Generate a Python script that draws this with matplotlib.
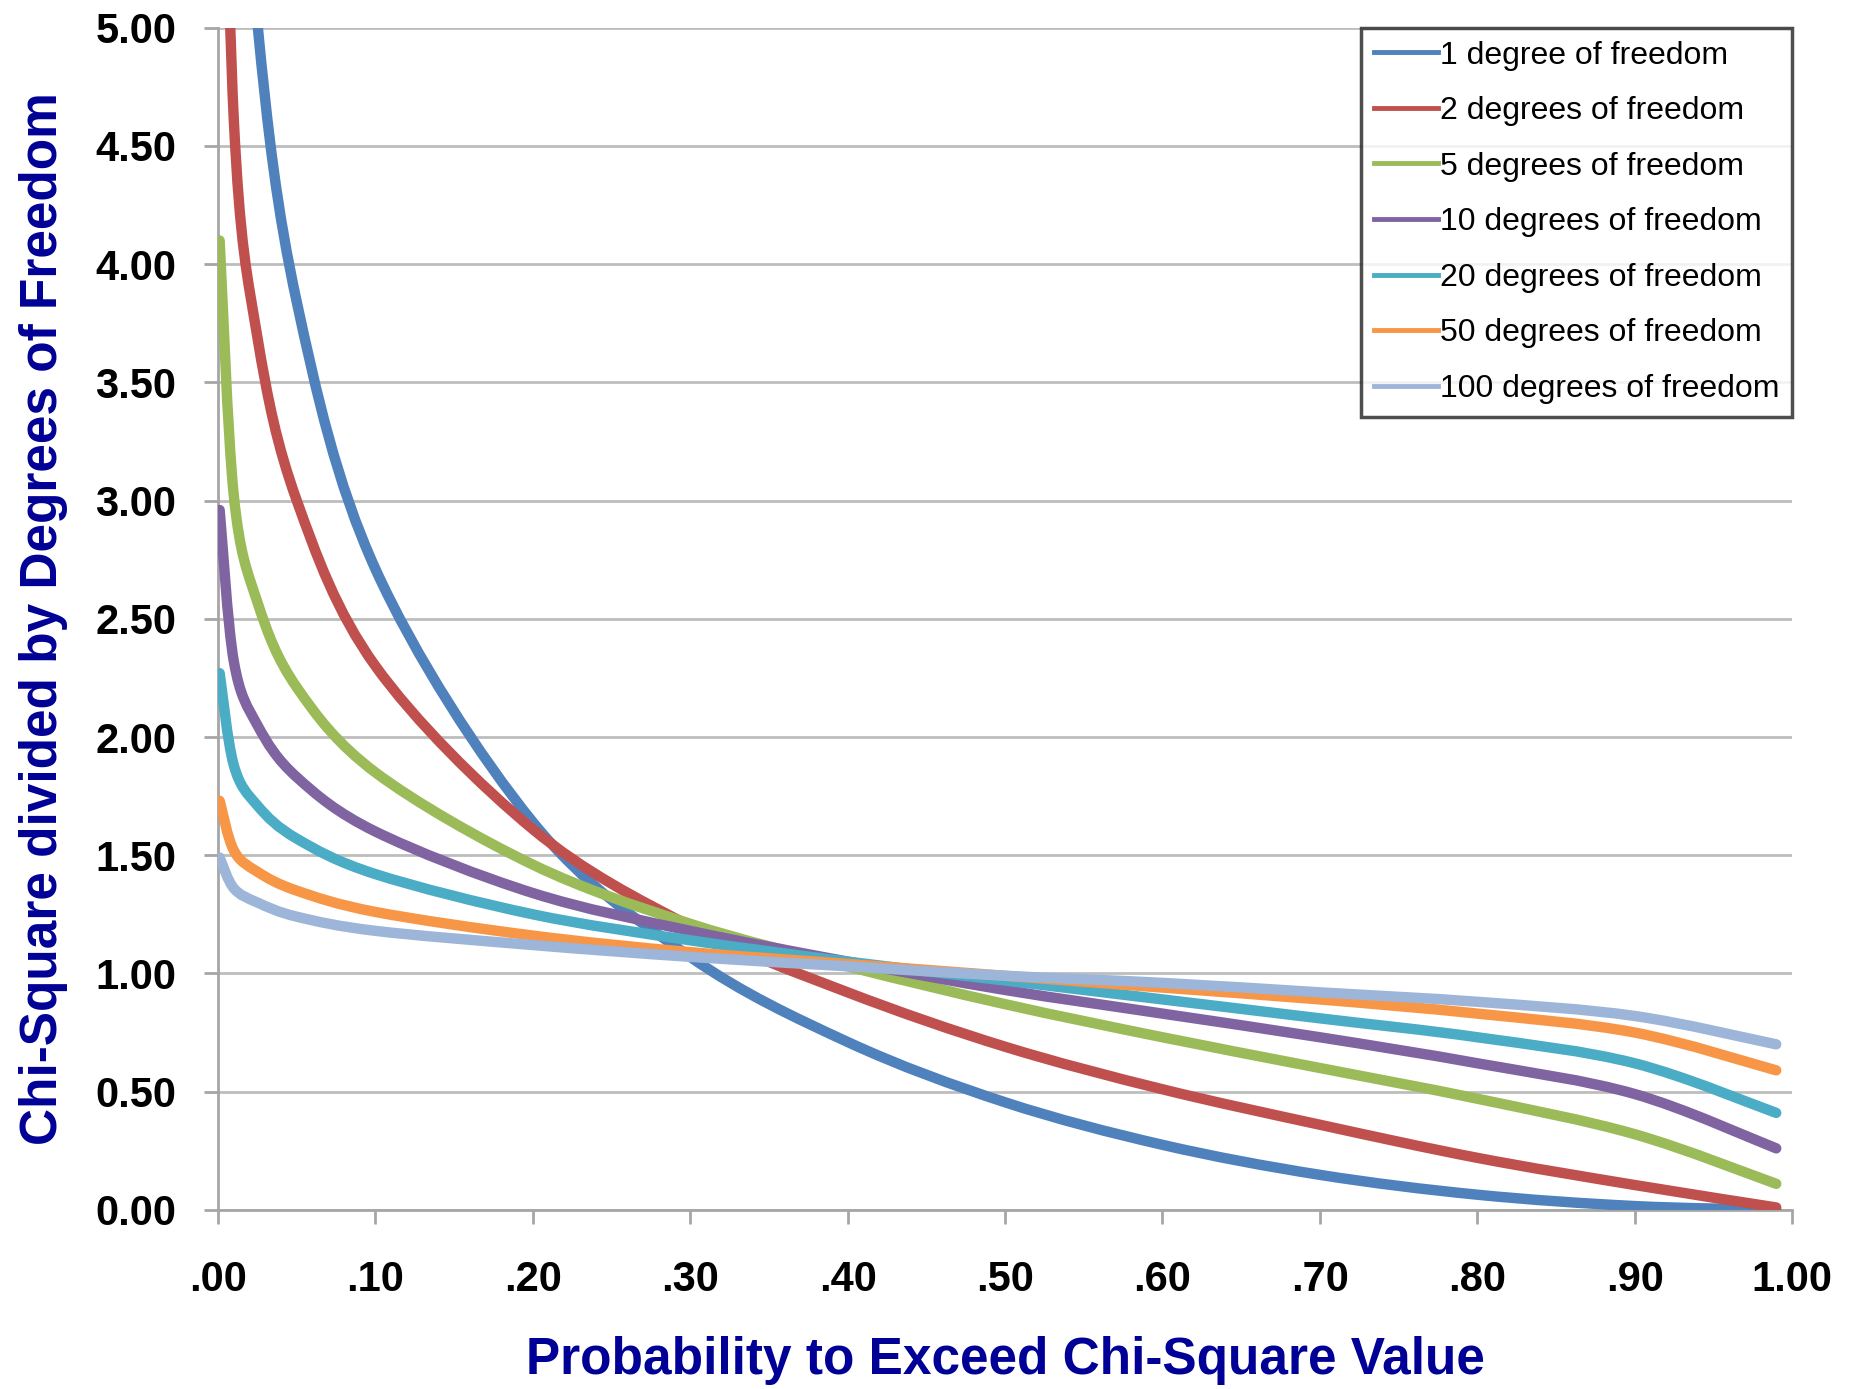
import matplotlib
matplotlib.use("Agg")
import matplotlib.pyplot as plt
from matplotlib.lines import Line2D
from matplotlib.path import Path
from matplotlib.patches import PathPatch

# Probability to exceed (x) and chi-square / df values
prob = [0.001, 0.01, 0.025, 0.05, 0.10, 0.20, 0.30, 0.40, 0.50,
        0.60, 0.70, 0.80, 0.90, 0.99]

df1 = [10.83, 6.63, 5.02, 3.84, 2.71, 1.64, 1.07, 0.71, 0.455,
       0.275, 0.148, 0.064, 0.016, 0.0002]
df2 = [6.91, 4.61, 3.69, 3.00, 2.30, 1.61, 1.20, 0.92, 0.69,
       0.51, 0.36, 0.22, 0.105, 0.010]
df5 = [4.10, 3.02, 2.57, 2.21, 1.85, 1.46, 1.21, 1.03, 0.87,
       0.73, 0.60, 0.47, 0.32, 0.11]
df10 = [2.96, 2.32, 2.05, 1.83, 1.60, 1.34, 1.18, 1.05, 0.93,
        0.83, 0.73, 0.62, 0.49, 0.26]
df20 = [2.27, 1.88, 1.71, 1.57, 1.42, 1.25, 1.14, 1.05, 0.97,
        0.89, 0.81, 0.73, 0.62, 0.41]
df50 = [1.73, 1.52, 1.43, 1.35, 1.26, 1.16, 1.09, 1.04, 0.99,
        0.94, 0.89, 0.83, 0.75, 0.59]
df100 = [1.49, 1.36, 1.30, 1.24, 1.18, 1.12, 1.07, 1.03, 0.99,
         0.96, 0.92, 0.88, 0.82, 0.70]

series = [df1, df2, df5, df10, df20, df50, df100]
labels = ["1 degree of freedom", "2 degrees of freedom", "5 degrees of freedom",
          "10 degrees of freedom", "20 degrees of freedom",
          "50 degrees of freedom", "100 degrees of freedom"]
colors = ["#4F81BD", "#C0504D", "#9BBB59", "#8064A2", "#4BACC6",
          "#F79646", "#9DB5D8"]

xticks = [0.0, 0.1, 0.2, 0.3, 0.4, 0.5, 0.6, 0.7, 0.8, 0.9, 1.0]
xticklabels = [".00", ".10", ".20", ".30", ".40", ".50", ".60", ".70",
               ".80", ".90", "1.00"]
yticks = [0, 0.5, 1, 1.5, 2, 2.5, 3, 3.5, 4, 4.5, 5]


def smooth_path(xs, ys):
    # Excel-style smoothed line: Catmull-Rom segments as cubic Beziers
    pts = list(zip(xs, ys))
    n = len(pts)
    verts = [pts[0]]
    codes = [Path.MOVETO]
    for i in range(n - 1):
        p0 = pts[max(i - 1, 0)]
        p1 = pts[i]
        p2 = pts[i + 1]
        p3 = pts[min(i + 2, n - 1)]
        c1 = (p1[0] + (p2[0] - p0[0]) / 6, p1[1] + (p2[1] - p0[1]) / 6)
        c2 = (p2[0] - (p3[0] - p1[0]) / 6, p2[1] - (p3[1] - p1[1]) / 6)
        verts += [c1, c2, p2]
        codes += [Path.CURVE4] * 3
    return Path(verts, codes)


plt.rcParams['font.family'] = ['Liberation Sans', 'DejaVu Sans']

fig = plt.figure(figsize=(18.56, 13.89), dpi=100)
ax = fig.add_axes([0.1175, 0.129, 0.848, 0.851])

for vals, col in zip(series, colors):
    patch = PathPatch(smooth_path(prob, vals), facecolor='none', edgecolor=col,
                      lw=7.5, capstyle='round', joinstyle='round', zorder=3)
    ax.add_patch(patch)

ax.set_xlim(0, 1)
ax.set_ylim(0, 5)
ax.set_xticks(xticks)
ax.set_xticklabels(xticklabels)
ax.set_yticks(yticks)
ax.set_yticklabels([f"{v:.2f}" for v in yticks])

ax.grid(axis='y', color='#BDBDBD', lw=2)
ax.set_axisbelow(True)
for s in ['top', 'right']:
    ax.spines[s].set_visible(False)
for s in ['left', 'bottom']:
    ax.spines[s].set_color('#A6A6A6')
    ax.spines[s].set_linewidth(2)

ax.tick_params(axis='both', direction='out', length=10, width=2,
               color='#A6A6A6', labelsize=30)
ax.tick_params(axis='x', pad=26)
ax.tick_params(axis='y', pad=20)
for t in ax.get_xticklabels() + ax.get_yticklabels():
    t.set_fontweight('bold')

navy = '#000096'
ax.set_xlabel("Probability to Exceed Chi-Square Value", fontsize=37,
              fontweight='bold', color=navy, labelpad=26)
ax.set_ylabel("Chi-Square divided by Degrees of Freedom", fontsize=37,
              fontweight='bold', color=navy, labelpad=20)

handles = [Line2D([0], [0], color=c, lw=3.5) for c in colors]
leg = ax.legend(handles, labels, loc='upper right', bbox_to_anchor=(1.0, 1.0),
                borderaxespad=0, fontsize=23, frameon=True, fancybox=False,
                handlelength=2.0, handletextpad=0.05, labelspacing=0.8,
                borderpad=0.4)
leg.get_frame().set_edgecolor('#222222')
leg.get_frame().set_linewidth(2.5)

fig.savefig("out.png", dpi=100)
